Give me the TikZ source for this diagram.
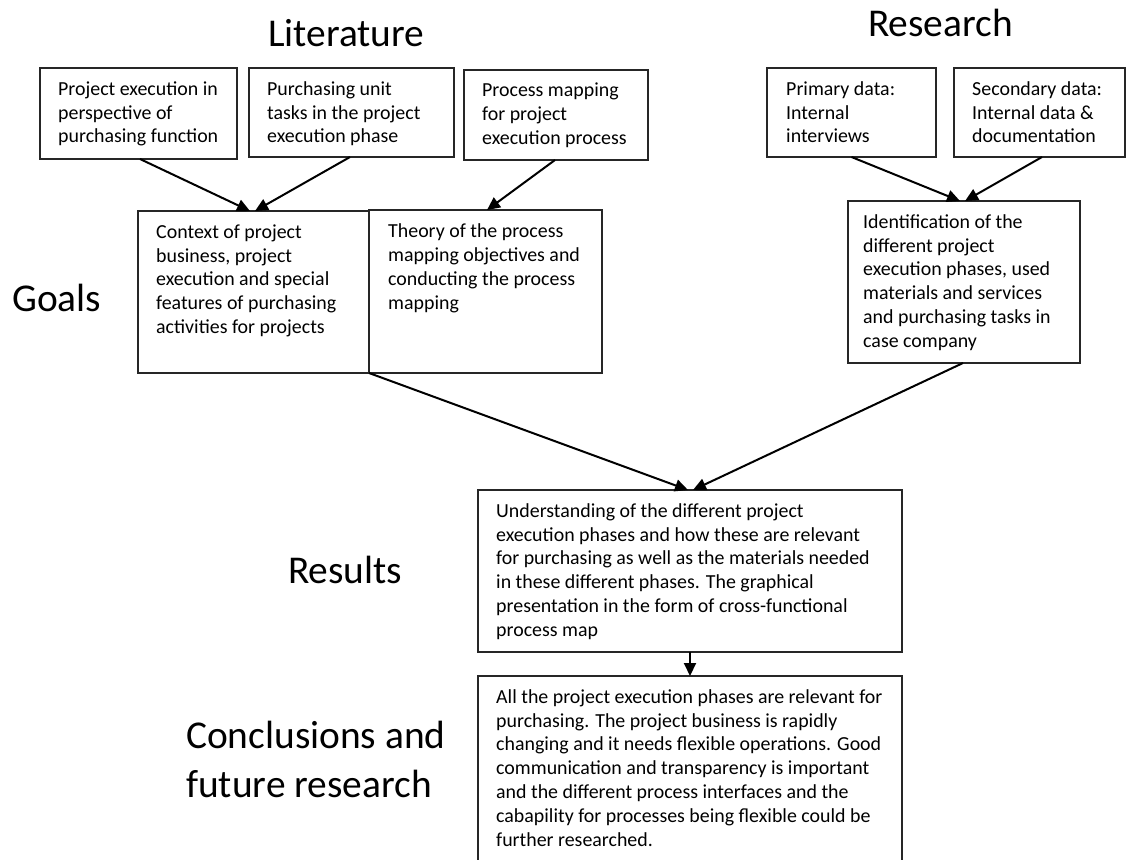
\documentclass[tikz,border=0pt]{standalone}
\usepackage{fontspec}
\setmainfont{Carlito}
\usetikzlibrary{arrows.meta,calc}

\tikzset{
  stepbox/.style={draw=black!85, line width=1.2pt, rectangle, inner sep=0pt, outer sep=0pt, anchor=north west},
  boxtext/.style={anchor=north west, inner sep=0pt, align=left,
    font=\fontsize{19.9}{23.8}\selectfont},
  heading/.style={anchor=base west, inner sep=0pt, align=left,
    font=\fontsize{39.4}{49}\selectfont},
  flow/.style={draw=black, line width=2pt, -{Triangle[length=13pt,width=12pt]}}
}

\begin{document}
\begin{tikzpicture}[x=1pt,y=-1pt]
\useasboundingbox (0,0) rectangle (1126,859);

% section headings
\node[heading] (hlit) at (268,47) {Literature};
\node[heading] (hres) at (868,37) {Research};
\node[heading] (hgoal) at (12,311) {Goals};
\node[heading] (hresult) at (288,583) {Results};
\node[heading] (hconc) at (186,797) {Conclusions and\\future research};

% literature sources
\node[stepbox, minimum width=197, minimum height=91] (A1) at (40,68) {};
\node[stepbox, minimum width=205, minimum height=89] (A2) at (249,68) {};
\node[stepbox, minimum width=184, minimum height=90] (A3) at (464,70) {};
% research sources
\node[stepbox, minimum width=169, minimum height=89] (R1) at (767,68) {};
\node[stepbox, minimum width=171, minimum height=89] (R2) at (954,68) {};
% goals
\node[stepbox, minimum width=231, minimum height=162] (G1) at (138,211) {};
\node[stepbox, minimum width=233, minimum height=163] (G2) at (369,210) {};
\node[stepbox, minimum width=232, minimum height=162] (G3) at (848,201) {};
% results and conclusions
\node[stepbox, minimum width=424, minimum height=162] (Res) at (478,490) {};
\node[stepbox, minimum width=424, minimum height=220] (C) at (478,676) {};

% box texts
\node[boxtext] (tA1) at ([shift={(18pt,-10.5pt)}]A1.north west)
  {\strut Project execution in\\perspective of\\purchasing function};
\node[boxtext] (tA2) at ([shift={(18pt,-10.5pt)}]A2.north west)
  {\strut Purchasing unit\\tasks in the project\\execution phase};
\node[boxtext] (tA3) at ([shift={(18pt,-10pt)}]A3.north west)
  {\strut Process mapping\\for project\\execution process};
\node[boxtext] (tR1) at ([shift={(19pt,-10.5pt)}]R1.north west)
  {\strut Primary data:\\Internal\\interviews};
\node[boxtext] (tR2) at ([shift={(18pt,-10.5pt)}]R2.north west)
  {\strut Secondary data:\\Internal data \&\\documentation};
\node[boxtext] (tG1) at ([shift={(18pt,-10.5pt)}]G1.north west)
  {\strut Context of project\\business, project\\execution and special\\features of purchasing\\activities for projects};
\node[boxtext] (tG2) at ([shift={(19pt,-11pt)}]G2.north west)
  {\strut Theory of the process\\mapping objectives and\\conducting the process\\mapping};
\node[boxtext] (tG3) at ([shift={(15pt,-10.5pt)}]G3.north west)
  {\strut Identification of the\\different project\\execution phases, used\\materials and services\\and purchasing tasks in\\case company};
\node[boxtext] (tRes) at ([shift={(18pt,-10.5pt)}]Res.north west)
  {\strut Understanding of the different project\\execution phases and how these are relevant\\for purchasing as well as the materials needed\\in these different phases. The graphical\\presentation in the form of cross-functional\\process map};
\node[boxtext] (tC) at ([shift={(18pt,-10.5pt)}]C.north west)
  {\strut All the project execution phases are relevant for\\purchasing. The project business is rapidly\\changing and it needs flexible operations. Good\\communication and transparency is important\\and the different process interfaces and the\\cabapility for processes being flexible could be\\further researched.};

% connectors
\draw[flow] ([xshift=1.5pt]A1.south) -- ([xshift=-3.5pt]G1.north);
\draw[flow] ([xshift=-1.5pt]A2.south) -- ([xshift=1.5pt]G1.north);
\draw[flow] ([xshift=-1pt]A3.south) -- ([xshift=1.5pt]G2.north);
\draw[flow] (R1.south) -- ([xshift=-4pt]G3.north);
\draw[flow] ([xshift=2.5pt]R2.south) -- ([xshift=1pt]G3.north);
\draw[flow] (G2.south west) -- ([xshift=-2pt]Res.north);
\draw[flow] ([xshift=-1pt]G3.south) -- ([xshift=3pt]Res.north);
\draw[flow] (Res.south) -- (C.north);
\end{tikzpicture}
\end{document}
